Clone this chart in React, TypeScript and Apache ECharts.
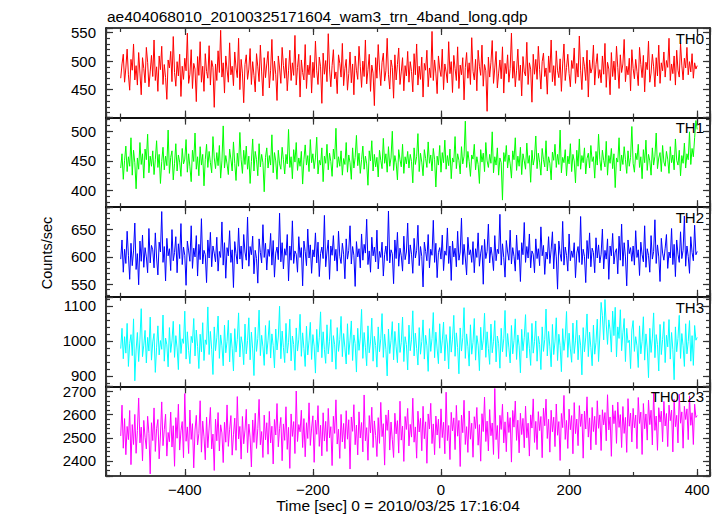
import React, { useEffect, useRef } from "react";
import * as echarts from "echarts";

const TITLE = "ae404068010_20100325171604_wam3_trn_4band_long.qdp";
const X_NAME = "Time [sec] 0 = 2010/03/25 17:16:04";
const Y_NAME = "Counts/sec";
const BANDS = ["TH0", "TH1", "TH2", "TH3", "TH0123"];
const COLORS = ["#ff0000", "#00ff00", "#0000ff", "#00ffff", "#ff00ff"];

// time bins (sec): first bin and bin width
const T_START = -500;
const T_BIN = 2;
const X_MIN = -523;
const X_MAX = 420;
const X_LABEL_STEP = 200;

const Y_RANGES = [
  [401, 558],
  [372, 523],
  [527, 691],
  [870, 1126],
  [2335, 2722],
];
const Y_LABEL_STEP = [50, 50, 50, 100, 100];
const Y_MAJOR_SPLIT = [3, 3, 3, 2, 4];
const Y_MINOR_SPLIT = [15, 15, 15, 12, 19];

const TH0 = [
  470,495,512,463,488,521,476,449,503,484,530,467,492,458,515,479,441,506,487,462,524,498,455,481,510,
  473,537,466,490,447,509,485,526,459,494,471,433,502,488,517,464,543,480,456,499,474,512,438,491,468,
  505,483,549,461,477,520,452,496,486,429,508,475,534,463,491,447,513,482,470,527,458,501,489,419,495,
  466,518,480,554,472,497,444,509,485,463,532,476,491,457,516,488,471,540,450,503,479,427,494,511,468,
  486,522,459,499,475,446,513,490,464,528,481,439,506,471,495,517,453,484,538,466,500,477,431,509,488,
  461,524,492,470,505,448,483,519,466,497,475,545,458,489,512,437,502,480,467,529,452,493,476,510,444,
  498,471,535,483,459,507,490,426,514,477,501,464,548,486,455,492,520,469,481,443,511,496,472,531,457,
  487,503,449,478,516,462,495,441,509,484,468,526,491,454,500,473,537,460,485,512,447,493,479,422,506,
  470,529,488,457,498,514,465,483,540,476,451,502,489,435,511,467,494,523,459,481,506,448,492,474,517,
  463,499,482,446,513,476,530,458,491,468,507,437,496,484,519,455,488,471,552,466,502,479,443,509,486,
  473,521,450,495,481,462,534,478,499,445,510,487,466,525,452,493,476,506,432,489,515,470,497,459,541,
  482,467,503,448,519,491,475,528,456,494,483,412,507,472,498,536,461,488,517,453,479,502,469,525,444,
  496,478,511,463,487,549,470,500,455,484,521,466,493,439,508,481,474,533,459,497,486,428,512,477,503,
  468,526,485,451,499,514,473,488,442,509,480,537,464,492,457,518,483,471,504,447,495,530,466,489,512,
  478,455,501,487,523,461,496,472,544,484,450,507,491,466,519,437,502,479,488,528,458,494,513,470,485,
  462,509,477,531,454,498,486,441,515,473,500,467,526,489,452,511,480,495,538,464,491,476,505,448,520,
  487,469,503,482,457,524,494,471,510,446,498,485,535,463,479,512,490,455,506,474,528,461,497,483,516,
  472,501,489,540,466,495,478,509,458,519,484,472,531,493,467,505,488,524,476,499,481,513,470,497,486,
  492,
];

const TH1 = [
  438,462,419,451,475,432,457,441,489,426,468,447,403,455,436,481,444,462,421,470,452,495,430,458,441,
  467,427,452,484,439,461,412,449,473,435,458,442,502,429,456,467,418,446,479,433,460,448,424,471,445,
  453,486,431,462,440,415,468,449,497,436,457,425,474,443,461,408,452,478,439,466,447,430,491,455,437,
  464,442,476,421,450,509,438,459,445,427,470,453,433,482,446,417,463,441,498,452,429,468,444,475,436,
  458,412,449,487,433,466,452,425,479,440,461,447,398,456,472,438,459,443,494,430,464,450,419,468,445,
  436,473,452,428,461,445,503,439,457,420,469,448,481,434,455,441,466,411,452,477,443,459,432,486,447,
  462,437,455,490,428,451,443,472,415,458,446,478,435,463,449,424,470,453,505,439,457,441,467,426,454,
  444,481,431,460,447,419,472,438,456,493,442,463,429,452,475,436,458,445,409,467,450,484,433,461,440,
  456,423,468,451,437,488,446,462,431,474,441,455,500,434,459,447,418,469,452,440,478,429,457,445,466,
  438,461,449,413,472,444,457,496,432,463,448,425,469,454,439,482,446,460,433,471,452,406,458,443,476,
  431,464,447,485,436,459,442,470,420,455,448,491,437,462,451,428,474,445,458,517,439,466,449,424,460,
  453,478,435,457,444,412,469,448,463,432,481,450,439,461,446,499,430,457,443,472,426,455,447,384,464,
  449,476,438,460,445,421,467,452,489,434,458,441,473,427,462,450,436,480,446,459,414,468,443,455,492,
  437,463,448,426,471,452,440,484,433,457,446,418,465,451,478,439,461,444,502,430,456,447,469,425,458,
  445,479,432,461,450,413,468,441,487,436,459,447,472,428,454,463,438,476,449,457,421,466,443,495,452,
  434,468,451,440,483,426,459,446,471,437,462,405,455,448,489,433,460,444,474,452,429,467,441,456,508,
  446,431,463,452,478,439,457,420,469,447,485,434,461,450,426,472,443,458,497,437,455,464,432,476,448,
  441,466,453,429,474,447,460,435,487,451,443,468,425,459,446,480,438,462,452,499,444,471,457,489,518,
  503,
];

const TH2 = [
  596,631,572,614,588,647,603,559,625,584,611,662,577,606,549,629,592,640,581,617,600,571,652,589,621,
  613,580,644,598,567,627,609,683,590,619,556,634,602,615,575,650,593,608,637,571,624,597,661,586,618,
  603,548,629,611,592,657,579,616,600,639,565,623,595,670,587,612,604,553,631,598,645,582,620,607,591,
  636,574,610,599,664,585,626,561,617,602,648,590,613,544,628,606,587,653,596,620,578,641,609,594,673,
  583,619,604,638,569,612,597,552,633,608,589,659,599,625,576,614,601,643,585,630,563,607,618,595,680,
  591,626,578,615,603,641,556,620,594,666,588,611,605,572,637,599,617,547,629,610,584,651,598,622,570,
  613,600,644,589,627,564,606,618,597,676,582,609,631,559,620,603,639,593,614,574,647,601,588,625,605,
  560,633,596,612,657,587,619,603,546,628,600,615,580,642,594,623,607,669,586,611,572,636,602,618,591,
  649,578,610,599,627,565,604,620,593,684,589,613,606,551,631,597,645,583,616,602,574,638,595,609,662,
  587,622,605,570,634,598,612,658,584,619,601,545,627,610,593,641,580,614,603,667,590,625,562,608,617,
  596,640,575,611,603,653,588,620,557,629,600,616,582,647,594,609,671,586,623,598,567,636,604,613,590,
  628,571,615,599,644,583,607,621,550,632,597,610,660,589,618,602,575,639,593,614,606,678,585,624,599,
  563,630,609,594,649,587,617,601,574,640,595,612,555,626,604,663,590,619,598,642,580,611,605,571,633,
  597,615,584,655,602,621,568,609,596,637,588,613,646,578,624,600,541,629,606,592,665,585,618,603,574,
  642,593,611,599,626,562,607,619,590,674,586,614,601,553,630,597,644,582,616,608,571,635,598,622,589,
  605,651,578,612,596,633,559,620,602,643,587,609,615,569,638,594,660,583,626,600,547,631,606,617,592,
  620,585,648,599,613,566,627,604,591,657,581,615,603,572,639,596,610,668,588,622,600,555,634,607,594,
  616,641,579,609,598,652,586,623,564,631,605,590,646,597,612,675,583,620,601,570,637,608,593,658,604,
  610,
];

const TH3 = [
  978,1036,949,1012,965,1050,927,993,1018,958,1063,886,974,1024,941,1005,1092,955,988,1030,937,1010,971,1068,945,
  997,1021,910,982,1043,960,1001,976,1074,942,1008,989,926,1038,967,1000,1056,953,1015,980,918,1047,964,1006,993,
  1085,948,1026,973,935,1013,995,1064,957,1031,984,921,1019,969,1052,944,1003,990,1097,961,1027,976,904,1040,972,
  1009,1071,950,1017,986,929,1045,966,998,1059,940,1022,979,914,1035,968,1004,1080,954,1012,991,932,1048,963,1001,
  1066,946,1025,977,901,1039,970,1007,1088,958,1016,983,930,1044,962,1002,1058,951,1020,987,923,1034,974,1011,1099,
  949,1028,981,938,1050,965,996,1062,943,1014,990,916,1037,971,1005,1076,956,1023,978,927,1042,960,1000,1053,947,
  1018,985,908,1033,968,1009,1083,952,1026,975,936,1046,963,999,1061,940,1015,989,919,1038,970,1004,1070,955,1021,
  980,934,1049,961,1002,1057,944,1017,992,911,1036,973,1008,1090,950,1024,982,929,1043,966,997,1065,942,1013,987,
  925,1040,969,1006,1078,953,1019,976,900,1034,964,1001,1055,946,1027,983,938,1051,967,995,1068,941,1012,990,917,
  1045,972,1003,1086,957,1022,979,931,1038,962,998,1060,948,1016,986,913,1035,970,1007,1081,952,1025,977,935,1049,
  965,1000,1054,943,1018,991,920,1041,968,1005,1073,956,1023,981,906,1037,971,1009,1095,950,1020,984,928,1046,962,
  996,1064,945,1015,988,915,1039,974,1002,1079,953,1026,978,933,1048,966,999,1058,940,1014,992,922,1036,969,1006,
  1087,955,1021,980,937,1044,963,1001,1063,947,1017,986,909,1033,972,1010,1075,951,1024,979,930,1050,965,998,1057,
  942,1013,990,918,1040,970,1004,1091,957,1027,983,926,1047,961,997,1066,944,1019,987,912,1035,973,1008,1084,953,
  1022,977,939,1051,964,1000,1059,946,1016,988,903,1038,969,1011,1077,955,1025,981,929,1045,962,996,1062,941,1014,
  1110,1072,1003,1118,1048,990,1060,1032,968,1085,1015,1096,954,1040,1007,1089,972,1023,1064,941,1036,995,1002,921,1031,
  1058,970,1012,986,924,1043,963,999,1069,945,1020,980,895,1036,967,1008,1080,952,1018,990,914,1047,961,1004,1055,
  938,1016,983,1061,948,1024,975,889,1040,969,1007,1073,950,1021,986,927,1049,963,998,1058,942,1015,930,1044,1002,
  1010,
];

const TH0123 = [
  2508,2641,2455,2583,2427,2549,2492,2618,2384,2557,2471,2601,2433,2531,2672,2478,2546,2400,2575,2502,2452,2593,2519,2344,2565,
  2488,2629,2441,2540,2579,2409,2512,2655,2466,2536,2602,2421,2523,2483,2611,2460,2552,2377,2587,2498,2645,2447,2530,2570,2414,
  2691,2485,2547,2432,2620,2493,2561,2370,2534,2597,2469,2518,2660,2438,2572,2504,2405,2589,2457,2542,2631,2452,2516,2359,2580,
  2487,2609,2443,2556,2521,2393,2567,2481,2642,2463,2537,2596,2425,2513,2585,2446,2678,2495,2549,2408,2592,2474,2533,2623,2436,
  2559,2503,2374,2577,2480,2606,2454,2541,2666,2470,2527,2415,2598,2491,2565,2429,2614,2478,2550,2387,2579,2512,2648,2461,2539,
  2588,2401,2560,2489,2634,2450,2545,2368,2603,2506,2570,2432,2702,2484,2557,2526,2619,2458,2583,2418,2565,2497,2651,2467,2542,
  2595,2394,2576,2515,2639,2463,2554,2422,2608,2486,2571,2441,2627,2500,2548,2380,2593,2519,2664,2473,2537,2411,2601,2482,2562,
  2453,2617,2494,2578,2365,2590,2528,2643,2470,2555,2426,2612,2499,2566,2439,2685,2487,2544,2403,2596,2521,2632,2458,2573,2510,
  2419,2587,2476,2653,2505,2561,2382,2599,2532,2620,2447,2568,2493,2415,2606,2517,2574,2434,2658,2490,2551,2398,2592,2536,2627,
  2465,2558,2503,2671,2481,2547,2412,2615,2525,2584,2444,2636,2496,2569,2390,2603,2538,2649,2475,2560,2427,2594,2512,2580,2455,
  2625,2501,2567,2431,2697,2488,2553,2406,2610,2530,2586,2449,2640,2507,2575,2376,2598,2522,2662,2471,2548,2437,2616,2494,2563,
  2416,2591,2540,2631,2468,2557,2399,2604,2527,2676,2484,2572,2443,2622,2509,2564,2428,2713,2492,2553,2410,2597,2536,2645,2478,
  2569,2440,2611,2523,2587,2395,2618,2546,2659,2489,2576,2435,2606,2514,2584,2457,2637,2500,2563,2421,2599,2542,2668,2480,2571,
  2449,2613,2531,2592,2414,2628,2552,2667,2497,2580,2438,2619,2526,2589,2462,2646,2511,2570,2402,2605,2544,2683,2493,2575,2454,
  2624,2535,2596,2431,2652,2518,2581,2466,2639,2549,2603,2412,2615,2538,2677,2503,2586,2448,2631,2527,2593,2470,2660,2541,2599,
  2445,2621,2556,2609,2487,2686,2534,2590,2420,2642,2561,2617,2476,2654,2545,2600,2458,2635,2519,2588,2437,2669,2550,2607,2482,
  2627,2543,2598,2453,2674,2562,2611,2428,2648,2539,2603,2490,2663,2557,2619,2469,2695,2532,2594,2446,2630,2568,2615,2483,2657,
  2551,2605,2462,2641,2574,2620,2439,2666,2548,2597,2478,2689,2563,2612,2455,2636,2579,2625,2492,2681,2554,2608,2471,2645,2588,
  2596,
];

const SERIES_DATA = [TH0, TH1, TH2, TH3, TH0123];

const FONT = '"Liberation Sans", Arial, Helvetica, sans-serif';
const LEFT = 106;
const RIGHT = 14;
const TOP = 28;
const PANEL_H = 89.6;

function fmtNum(v: number, step: number) {
  if (Math.abs(v % step) > 1e-6) return "";
  return v < 0 ? "\u2212" + Math.abs(v) : String(v);
}

const lineStyleAxis = { color: "#000", width: 1.6 };
const majorTick = { show: true, inside: true, length: 7, lineStyle: { color: "#333", width: 1.2 } };
const minorTick = { show: true, inside: true, length: 4, lineStyle: { color: "#333", width: 1.2 } };

function buildOption() {
  const grids: any[] = [];
  const xAxes: any[] = [];
  const yAxes: any[] = [];
  const series: any[] = [];
  const graphics: any[] = [];

  for (let g = 0; g < 5; g++) {
    const top = TOP + g * PANEL_H;
    grids.push({ left: LEFT, right: RIGHT, top, height: PANEL_H, containLabel: false });
    const xb = {
      type: "value",
      gridIndex: g,
      min: X_MIN,
      max: X_MAX,
      splitLine: { show: false },
    };
    const isLast = g === 4;
    xAxes.push({
      ...xb,
      position: "bottom",
      splitNumber: 5,
      axisLine: { show: true, onZero: false, lineStyle: lineStyleAxis },
      axisTick: majorTick,
      axisLabel: {
        show: isLast,
        color: "#000",
        fontSize: 15,
        fontFamily: FONT,
        margin: 6,
        formatter: (v: number) => fmtNum(v, X_LABEL_STEP),
      },
    });
    xAxes.push({
      ...xb,
      position: "bottom",
      splitNumber: 10,
      axisLine: { show: false, onZero: false },
      axisTick: minorTick,
      axisLabel: { show: false },
    });
    xAxes.push({
      ...xb,
      position: "top",
      splitNumber: 5,
      axisLine: { show: true, onZero: false, lineStyle: lineStyleAxis },
      axisTick: majorTick,
      axisLabel: { show: false },
    });
    xAxes.push({
      ...xb,
      position: "top",
      splitNumber: 10,
      axisLine: { show: false, onZero: false },
      axisTick: minorTick,
      axisLabel: { show: false },
    });

    const [ymin, ymax] = Y_RANGES[g];
    const yb = {
      type: "value",
      gridIndex: g,
      min: ymin,
      max: ymax,
      splitLine: { show: false },
    };
    const step = Y_LABEL_STEP[g];
    yAxes.push({
      ...yb,
      position: "left",
      splitNumber: Y_MAJOR_SPLIT[g],
      axisLine: { show: true, onZero: false, lineStyle: lineStyleAxis },
      axisTick: majorTick,
      axisLabel: {
        show: true,
        color: "#000",
        fontSize: 15,
        fontFamily: FONT,
        margin: 10,
        formatter: (v: number) => fmtNum(v, step),
      },
    });
    yAxes.push({
      ...yb,
      position: "left",
      splitNumber: Y_MINOR_SPLIT[g],
      axisLine: { show: false, onZero: false },
      axisTick: minorTick,
      axisLabel: { show: false },
    });
    yAxes.push({
      ...yb,
      position: "right",
      splitNumber: Y_MAJOR_SPLIT[g],
      axisLine: { show: true, onZero: false, lineStyle: lineStyleAxis },
      axisTick: majorTick,
      axisLabel: { show: false },
    });
    yAxes.push({
      ...yb,
      position: "right",
      splitNumber: Y_MINOR_SPLIT[g],
      axisLine: { show: false, onZero: false },
      axisTick: minorTick,
      axisLabel: { show: false },
    });

    const vals = SERIES_DATA[g];
    series.push({
      type: "line",
      name: BANDS[g],
      xAxisIndex: g * 4,
      yAxisIndex: g * 4,
      data: vals.map((v, i) => [T_START + i * T_BIN, v]),
      showSymbol: false,
      symbol: "none",
      lineStyle: { color: COLORS[g], width: 1 },
      itemStyle: { color: COLORS[g] },
      z: 1,
    });

    graphics.push({
      type: "text",
      x: 704,
      y: top + 10.3,
      z: 10,
      style: {
        text: BANDS[g],
        fill: "#000",
        font: `15px ${FONT}`,
        textAlign: "right",
        textVerticalAlign: "middle",
      },
    });
  }

  graphics.push({
    type: "text",
    x: 107,
    y: 16,
    style: {
      text: TITLE,
      fill: "#000",
      font: `15.5px ${FONT}`,
      textAlign: "left",
      textVerticalAlign: "middle",
    },
  });
  graphics.push({
    type: "text",
    x: 398,
    y: 505,
    style: {
      text: X_NAME,
      fill: "#000",
      font: `15.5px ${FONT}`,
      textAlign: "center",
      textVerticalAlign: "middle",
    },
  });
  graphics.push({
    type: "text",
    x: 47,
    y: 253,
    rotation: Math.PI / 2,
    style: {
      text: Y_NAME,
      fill: "#000",
      font: `14.5px ${FONT}`,
      textAlign: "center",
      textVerticalAlign: "middle",
    },
  });

  return {
    animation: false,
    backgroundColor: "#ffffff",
    grid: grids,
    xAxis: xAxes,
    yAxis: yAxes,
    series,
    graphic: graphics,
  };
}

export default function App() {
  const ref = useRef<HTMLDivElement>(null);
  useEffect(() => {
    if (!ref.current) return;
    const chart = echarts.init(ref.current, null, { renderer: "svg" });
    chart.setOption(buildOption() as any);
    return () => {
      chart.dispose();
    };
  }, []);
  return (
    <div
      ref={ref}
      style={{ position: "fixed", left: 0, top: 0, width: 724, height: 516, background: "#fff" }}
    />
  );
}
